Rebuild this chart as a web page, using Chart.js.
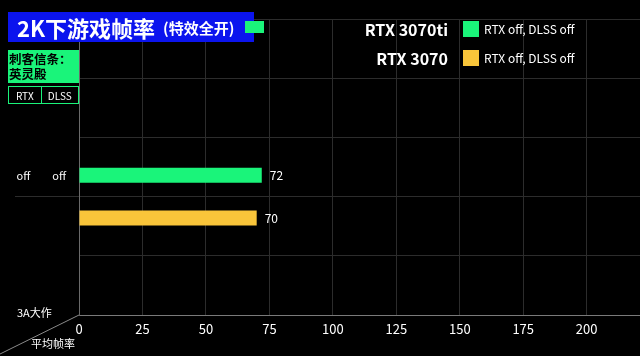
<!DOCTYPE html>
<html>
<head>
<meta charset="utf-8">
<script src="https://cdn.jsdelivr.net/npm/chart.js@4/dist/chart.umd.min.js"></script>
<style>
  html, body { margin: 0; padding: 0; background: #000; }
  body { width: 640px; height: 356px; position: relative; overflow: hidden; font-family: "Noto Sans CJK SC", "Noto Sans", sans-serif; }
  #c { position: absolute; left: 0; top: 0; }
  .abs { position: absolute; white-space: nowrap; }
  #title { left: 8px; top: 12px; width: 246px; height: 30px; background: #0b14ee; color: #fff; font-weight: 700; }
  #title .main { position: absolute; left: 9px; top: 0; font-size: 22px; line-height: 30px; }
  #title .sub { position: absolute; left: 155px; top: 1px; font-size: 15px; line-height: 30px; }
  #tmark { left: 245px; top: 21px; width: 19px; height: 12px; background: #1af47a; }
  #game { left: 8px; top: 50px; width: 71px; height: 33px; background: #1af47a; color: #000; font-weight: 700; font-size: 12.5px; line-height: 15px; padding: 1px 0 0 1px; box-sizing: border-box; }
  #thead { left: 8px; top: 86px; width: 71px; height: 18px; border: 1px solid #1af47a; box-sizing: border-box; color: #fff; font-size: 10px; display: flex; }
  #thead div { display: flex; align-items: center; justify-content: center; height: 16px; }
  .leg-name { color: #fff; font-weight: 700; font-size: 16px; line-height: 20px; text-align: right; }
  .leg-sw { width: 16px; height: 16px; }
  .leg-txt { color: #fff; font-size: 12px; line-height: 16px; }
  .small { color: #fff; font-size: 11px; line-height: 14px; }
</style>
</head>
<body>
<canvas id="c" width="640" height="356"></canvas>
<div id="title" class="abs"><span class="main">2K下游戏帧率</span><span class="sub">(特效全开)</span></div>
<div id="tmark" class="abs"></div>
<div id="game" class="abs">刺客信条：<br>英灵殿</div>
<div id="thead" class="abs"><div style="width:32px;border-right:1px solid #1af47a;">RTX</div><div style="width:37px;">DLSS</div></div>
<div id="legend"></div>
<div class="abs small" style="left:17px;top:305px;">3A大作</div>
<div class="abs small" style="left:31px;top:336px;">平均帧率</div>
<script>
// ---- data ----
const categories = ['3A大作'];
const seriesNames = ['RTX 3070ti', 'RTX 3070'];
const seriesSettings = ['RTX off, DLSS off', 'RTX off, DLSS off'];
const rtxColumn = ['off'];
const dlssColumn = ['off'];
const values3070ti = [72];
const values3070 = [70];
const xTicks = [0, 25, 50, 75, 100, 125, 150, 175, 200];

const colors = ['#1af47a', '#f9c53a'];
const ROW_SLOT = 2; // category row position on the row scale

// legend (HTML)
const legend = document.getElementById('legend');
seriesNames.forEach((name, i) => {
  const cy = 29 + i * 29;
  legend.insertAdjacentHTML('beforeend',
    `<div class="abs leg-name" style="right:${640-448}px;top:${cy-10}px;">${name}</div>` +
    `<div class="abs leg-sw" style="left:463px;top:${cy-8}px;background:${colors[i]};"></div>` +
    `<div class="abs leg-txt" style="left:484px;top:${cy-8}px;">${seriesSettings[i]}</div>`);
});

const rowLabel = rtxColumn[0] + '\u2002\u2002\u2002\u2002' + dlssColumn[0];

const valueLabels = {
  id: 'valueLabels',
  afterDatasetsDraw(chart) {
    const ctx = chart.ctx;
    ctx.save();
    ctx.fillStyle = '#fff';
    ctx.font = '12px "Noto Sans CJK SC"';
    ctx.textAlign = 'left';
    ctx.textBaseline = 'middle';
    chart.data.datasets.forEach((ds, di) => {
      chart.getDatasetMeta(di).data.forEach((el, i) => {
        const v = ds.data[i].x;
        ctx.fillText(String(v), el.x + 8, el.y);
      });
    });
    ctx.restore();
  },
  afterDraw(chart) {
    const a = chart.chartArea;
    const ctx = chart.ctx;
    ctx.save();
    ctx.strokeStyle = '#8a8a8a';
    ctx.lineWidth = 1;
    ctx.beginPath();
    ctx.moveTo(0, 354);
    ctx.lineTo(a.left, a.bottom);
    ctx.stroke();
    ctx.restore();
  }
};

const mk = (vals) => vals.map((v) => ({ x: v, y: ROW_SLOT }));

new Chart(document.getElementById('c'), {
  type: 'bar',
  data: {
    labels: categories,
    datasets: [
      { label: seriesNames[0], data: mk(values3070ti), backgroundColor: colors[0], borderWidth: 0, categoryPercentage: 1.446, barPercentage: 0.35 },
      { label: seriesNames[1], data: mk(values3070), backgroundColor: colors[1], borderWidth: 0, categoryPercentage: 1.446, barPercentage: 0.35 }
    ]
  },
  plugins: [valueLabels],
  options: {
    indexAxis: 'y',
    responsive: false,
    animation: false,
    layout: { padding: { top: 19, left: 0, right: 0, bottom: 0 } },
    plugins: { legend: { display: false }, tooltip: { enabled: false } },
    scales: {
      x: {
        type: 'linear',
        min: 0,
        max: 221,
        afterBuildTicks: (s) => { s.ticks = xTicks.map((v) => ({ value: v })); },
        afterFit: (s) => { s.height = 41; },
        grid: { color: '#2c2c2c', drawTicks: false },
        border: { color: '#7a7a7a', width: 1 },
        ticks: { color: '#fff', padding: 6, font: { family: 'Noto Sans CJK SC', size: 13 } }
      },
      y: {
        type: 'linear',
        min: 0,
        max: 5,
        offset: false,
        afterBuildTicks: (s) => { s.ticks = [0, 1, 2, 3, 4, 5].map((v) => ({ value: v })); },
        afterFit: (s) => { s.width = 79; },
        grid: {
          offset: false,
          color: '#2c2c2c',
          drawTicks: true,
          tickLength: 64,
          tickColor: (c) => (c.tick && c.tick.value === ROW_SLOT ? '#2c2c2c' : 'rgba(0,0,0,0)')
        },
        border: { color: '#6a6a6a', width: 1 },
        ticks: {
          color: '#fff',
          padding: -51,
          labelOffset: -21,
          font: { family: 'Noto Sans CJK SC', size: 11 },
          callback: (v) => (v === ROW_SLOT ? rowLabel : '')
        }
      }
    }
  }
});
</script>
</body>
</html>
